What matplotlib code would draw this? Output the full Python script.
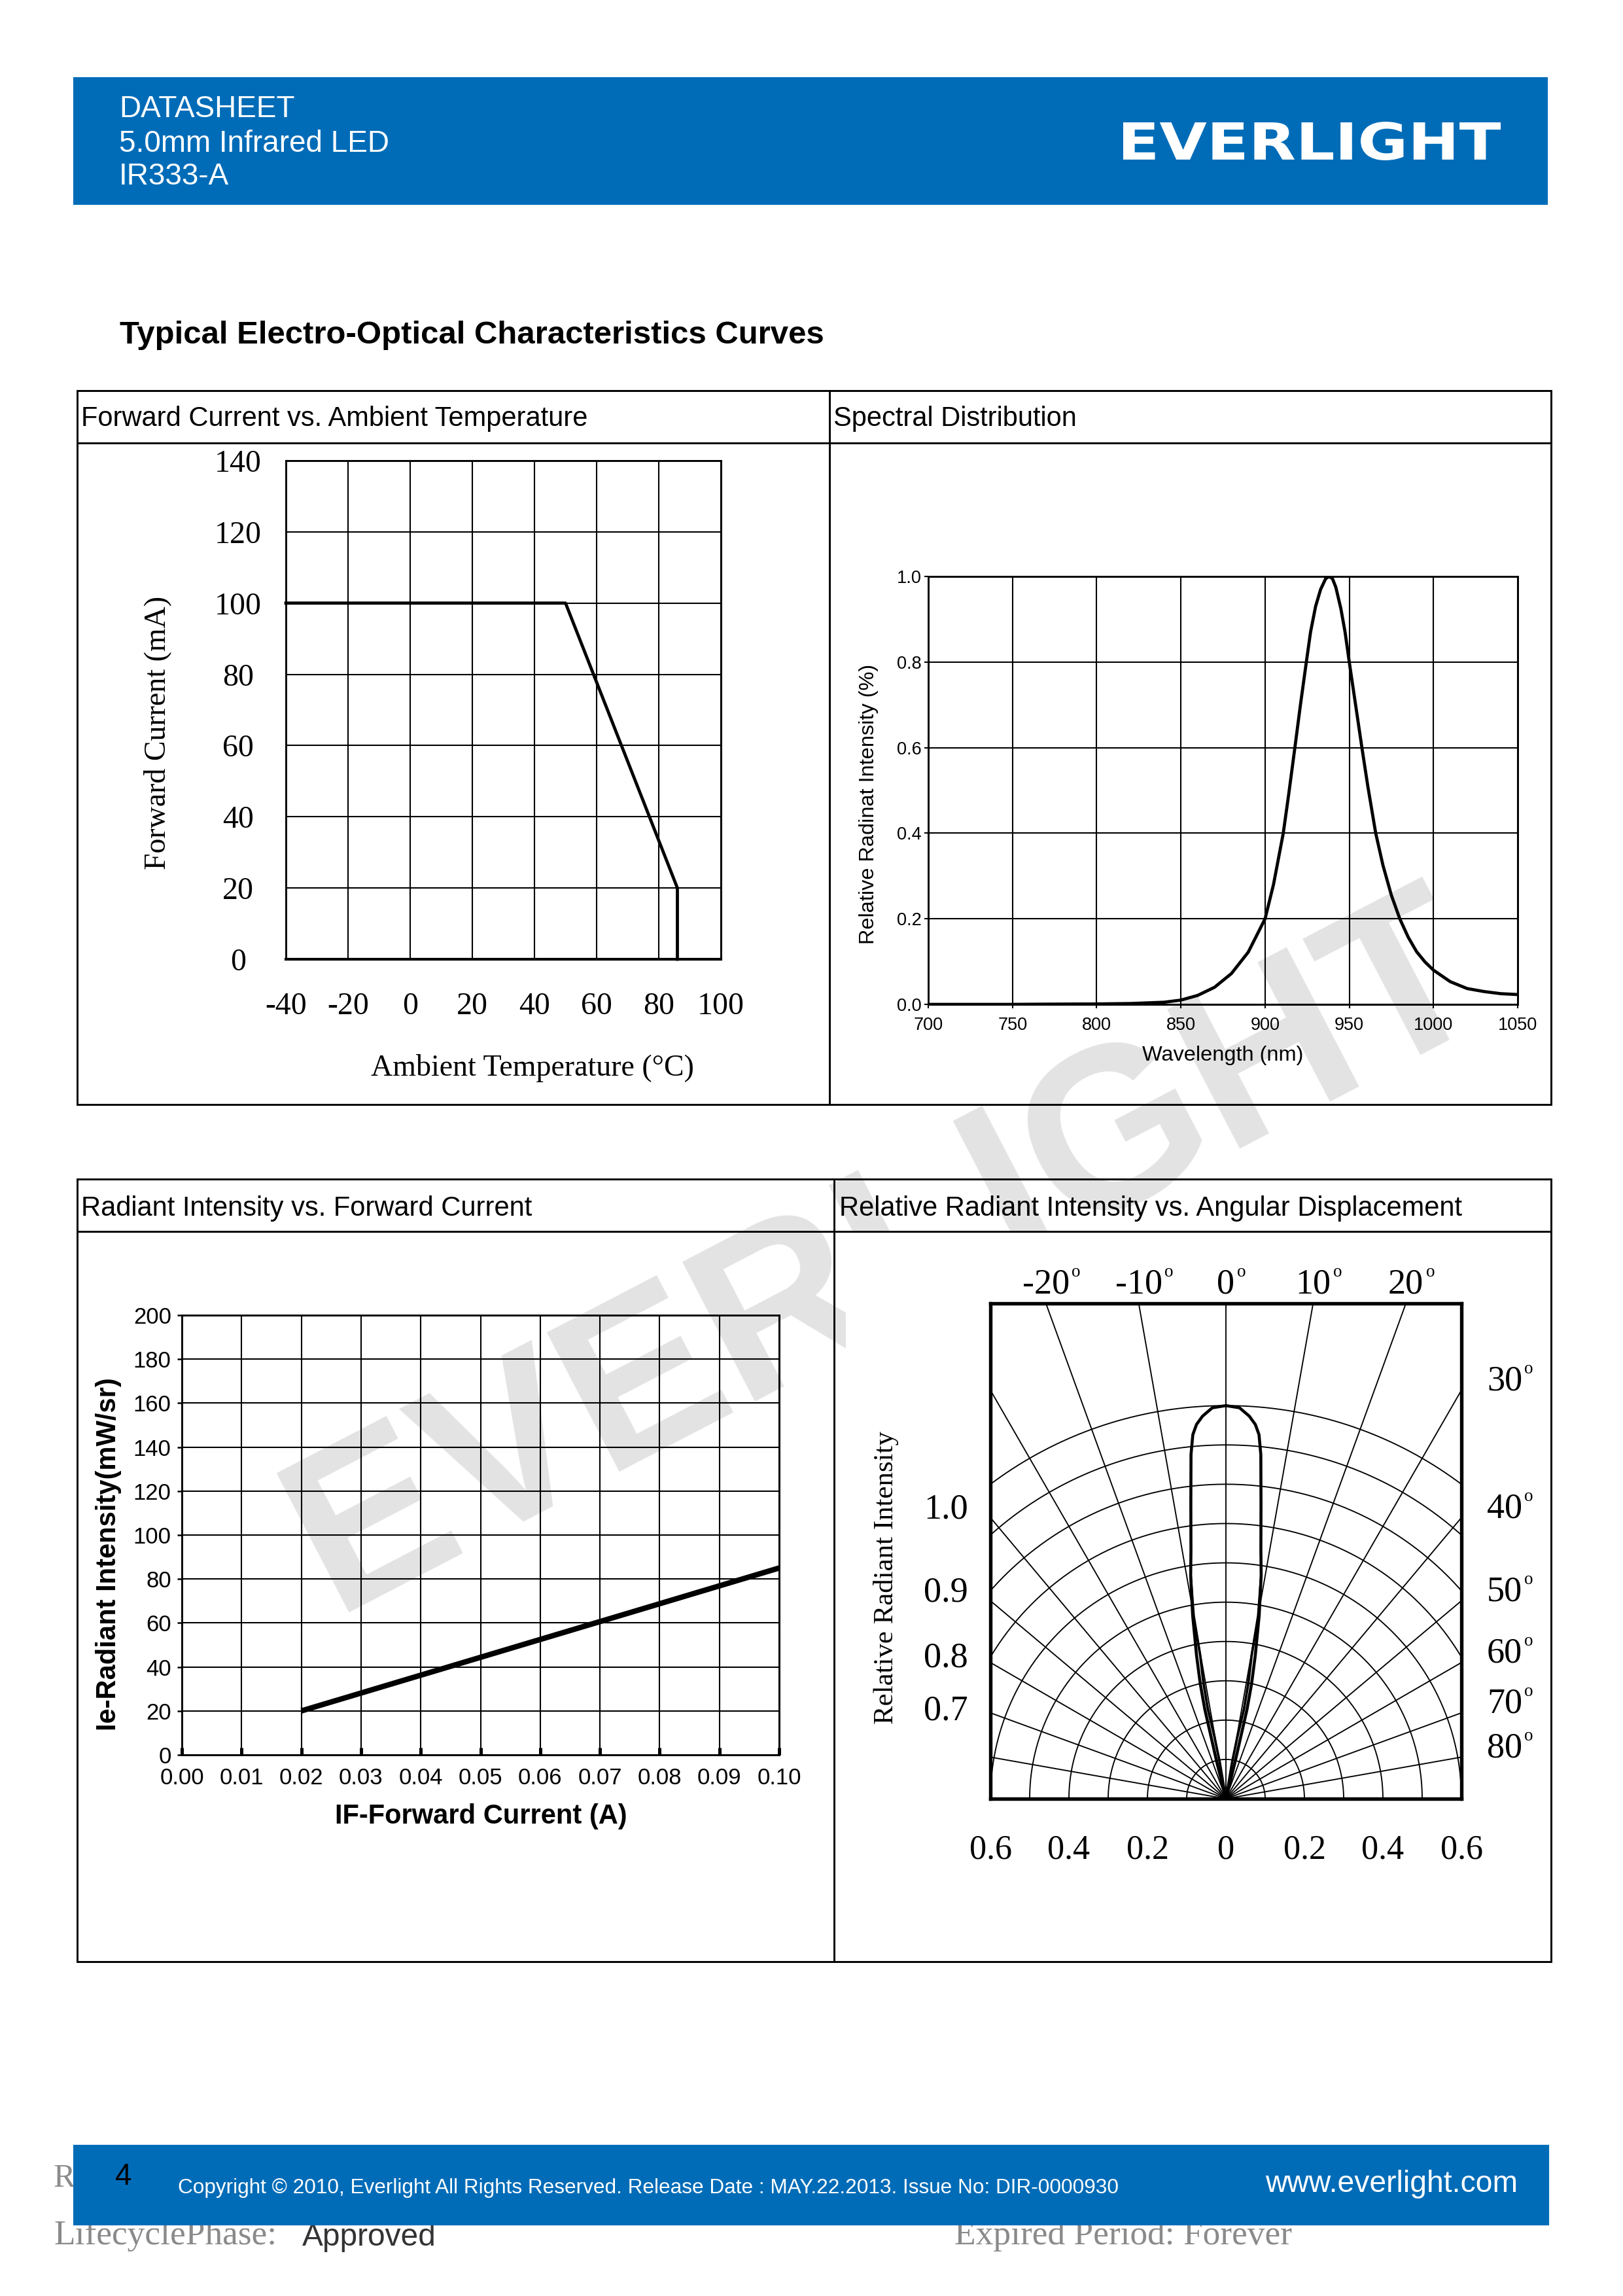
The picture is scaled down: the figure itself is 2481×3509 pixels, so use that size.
import numpy as np
import matplotlib
matplotlib.use('Agg')
import matplotlib.pyplot as plt
from matplotlib.patches import Rectangle, PathPatch
from matplotlib.textpath import TextPath
from matplotlib.font_manager import FontProperties
from matplotlib.transforms import Affine2D

plt.rcParams['font.family'] = ['Liberation Sans', 'DejaVu Sans']
plt.rcParams['mathtext.fontset'] = 'stix'
plt.rcParams['axes.unicode_minus'] = False

SERIF = ['Liberation Serif', 'DejaVu Serif']
BLUE = '#006cb8'
W, H = 2481, 3509

# ---- values ----
# Forward Current vs. Ambient Temperature
temp_c = [-40, 50, 86, 86]
fwd_ma = [100, 100, 20, 0]
temp_ticks = [-40, -20, 0, 20, 40, 60, 80, 100]
fwd_ticks = [0, 20, 40, 60, 80, 100, 120, 140]

# Spectral Distribution
wl_nm = [700, 750, 770, 800, 820, 840, 850, 860, 870, 880, 890, 900, 905, 910.8,
         914, 917.7, 921, 924.5, 927, 930, 933, 936, 938, 940, 942, 945, 947.5,
         950, 953, 957.5, 961, 965.7, 970, 975, 980, 985, 990, 995, 1000, 1010,
         1020, 1030, 1040, 1050]
spec_rel = [0.0, 0.0, 0.0005, 0.001, 0.002, 0.005, 0.010, 0.021, 0.040, 0.072,
            0.122, 0.200, 0.28, 0.40, 0.49, 0.60, 0.70, 0.80, 0.87, 0.93, 0.97,
            0.995, 1.0, 0.995, 0.975, 0.925, 0.87, 0.80, 0.72, 0.60, 0.51, 0.40,
            0.325, 0.255, 0.20, 0.157, 0.123, 0.099, 0.080, 0.053, 0.037, 0.030,
            0.025, 0.023]
wl_ticks = [700, 750, 800, 850, 900, 950, 1000, 1050]
spec_ticks = [0.0, 0.2, 0.4, 0.6, 0.8, 1.0]

# Radiant Intensity vs. Forward Current
if_a = [0.02, 0.10]
ie_mwsr = [20, 85]
if_ticks = [0.00, 0.01, 0.02, 0.03, 0.04, 0.05, 0.06, 0.07, 0.08, 0.09, 0.10]
ie_ticks = [0, 20, 40, 60, 80, 100, 120, 140, 160, 180, 200]

# Relative Radiant Intensity vs. Angular Displacement (half lobe, mirrored)
beam_deg = [0, 2, 3.5, 4.5, 5.2, 5.8, 6.8, 8.0, 9.0, 10.3, 11.6, 12.6, 13.3, 14.0, 14.6]
beam_rel = [1.0, 0.995, 0.975, 0.955, 0.93, 0.88, 0.755, 0.64, 0.574, 0.474,
            0.372, 0.30, 0.234, 0.095, 0.0]
# second (inner) trace of the lobe near the emitter
inner_deg = [9.0, 10.0, 10.2, 11.0, 11.4, 10.5, 9.6, 9.0]
inner_rel = [0.574, 0.473, 0.37, 0.30, 0.233, 0.16, 0.093, 0.0]
spoke_deg = [-80, -70, -60, -50, -40, -30, -20, -10, 0, 10, 20, 30, 40, 50, 60, 70, 80]
ring_r = [0.1, 0.2, 0.3, 0.4, 0.5, 0.6, 0.7, 0.8, 0.9, 1.0]
top_deg = [-20, -10, 0, 10, 20]
side_deg = [30, 40, 50, 60, 70, 80]
bottom_ticks = [-0.6, -0.4, -0.2, 0, 0.2, 0.4, 0.6]
bottom_labels = ['0.6', '0.4', '0.2', '0', '0.2', '0.4', '0.6']
left_labels = ['1.0', '0.9', '0.8', '0.7']
left_label_y = [0.713, 0.502, 0.335, 0.20]

fig = plt.figure(figsize=(W / 300, H / 300), dpi=300)


def px_axes(x0, y0, x1, y1):
    # axes placed by page pixel box (y measured from the top)
    ax = fig.add_axes([x0 / W, 1 - y1 / H, (x1 - x0) / W, (y1 - y0) / H], zorder=3)
    ax.set_facecolor('none')
    return ax


def degree_label(ax, x, y, num, ha):
    t = ax.text(x, y, num, ha=ha, va='baseline', fontsize=13, family=SERIF, clip_on=False)
    ax.annotate('o', xy=(1.0, 1.0), xycoords=t, xytext=(0.8, 1.5), textcoords='offset points',
                ha='left', va='top', fontsize=6.5, family=SERIF, annotation_clip=False)


# page background layer in pixel coordinates
bg = fig.add_axes([0, 0, 1, 1], zorder=0)
bg.set_xlim(0, W)
bg.set_ylim(H, 0)
bg.axis('off')

# header band
bg.add_patch(Rectangle((114, 120), 2364 - 114, 311 - 120, color=BLUE, zorder=2))
for txt, yb in zip(['DATASHEET', '5.0mm Infrared LED', 'IR333-A'], [179, 232, 282]):
    bg.text(182, yb, txt, color='white', fontsize=11, va='baseline', zorder=3)

fp = FontProperties(family='DejaVu Sans', weight='bold')
logo = TextPath((0, 0), 'EVERLIGHT', size=1, prop=fp)
ext = logo.get_extents()
lx0, ly0, lx1, ly1 = 1717, 186, 2294, 245
tr = Affine2D().translate(-ext.x0, -ext.y0).scale((lx1 - lx0) / ext.width, -(ly1 - ly0) / ext.height).translate(lx0, ly1)
bg.add_patch(PathPatch(tr.transform_path(logo), facecolor='white', edgecolor='none', zorder=3))

bg.text(183, 525, 'Typical Electro-Optical Characteristics Curves', fontsize=11.8,
        fontweight='bold', va='baseline')

# watermark
bg.text(1357, 1922, 'EVERLIGHT', fontsize=84, fontweight='bold', color='#e3e3e3',
        rotation=27.5, ha='center', va='center', rotation_mode='anchor', zorder=1)

# white box of the polar figure hides the watermark
bg.add_patch(Rectangle((1295, 1885), 2369 - 1295, 2996 - 1885, color='white', zorder=2))

# tables
for top, hdr, bot, div in [(597, 677, 1688, 1268), (1802, 1882, 2998, 1275)]:
    bg.add_patch(Rectangle((118, top), 2371 - 118, bot - top, fill=False, ec='k', lw=0.7, zorder=4))
    bg.plot([118, 2371], [hdr, hdr], color='k', lw=0.7, zorder=4)
    bg.plot([div, div], [top, bot], color='k', lw=0.7, zorder=4)

bg.text(124, 651, 'Forward Current vs. Ambient Temperature', fontsize=10, va='baseline')
bg.text(1274, 651, 'Spectral Distribution', fontsize=10, va='baseline')
bg.text(124, 1858, 'Radiant Intensity vs. Forward Current', fontsize=10, va='baseline')
bg.text(1283, 1858, 'Relative Radiant Intensity vs. Angular Displacement', fontsize=10, va='baseline')

# footer
bg.text(82, 3342, 'R', fontsize=12, family=SERIF, color='#8c8c8c', va='baseline', zorder=1)
bg.add_patch(Rectangle((114, 3280), 2366 - 114, 3399 - 3280, color=BLUE, zorder=2))
bg.text(176, 3339, '4', fontsize=11, color='black', va='baseline', zorder=3)
bg.text(272, 3352, 'Copyright \u00a9 2010, Everlight All Rights Reserved. Release Date : MAY.22.2013. '
        'Issue No: DIR-0000930', fontsize=7.55, color='white', va='baseline', zorder=3)
bg.text(1934, 3350, 'www.everlight.com', fontsize=11.1, color='white', va='baseline', zorder=3)
bg.text(82, 3430, 'LifecyclePhase:', fontsize=12.8, family=SERIF, color='#8a8a8a', va='baseline', zorder=1)
bg.text(462, 3432, 'Approved', fontsize=11.5, color='#333333', va='baseline', zorder=1)
bg.text(1459, 3430, 'Expired Period: Forever', fontsize=12.8, family=SERIF, color='#8a8a8a',
        va='baseline', zorder=1)

# ---- Forward Current vs. Ambient Temperature ----
ax1 = px_axes(437, 704, 1102, 1466)
ax1.plot(temp_c, fwd_ma, color='k', lw=1.15, clip_on=False)
ax1.set_xlim(-40, 100)
ax1.set_ylim(0, 140)
ax1.set_xticks(temp_ticks)
ax1.set_yticks(fwd_ticks)
ax1.grid(True, color='k', lw=0.5)
ax1.tick_params(length=0, labelsize=11.5)
ax1.tick_params(axis='x', pad=12)
ax1.tick_params(axis='y', pad=17.5)
for lab in ax1.get_xticklabels() + ax1.get_yticklabels():
    lab.set_fontfamily(SERIF)
for lab in ax1.get_yticklabels():
    lab.set_ha('center')
for s in ax1.spines.values():
    s.set_linewidth(0.7)
ax1.spines['bottom'].set_linewidth(1.0)
ax1.set_ylabel('Forward Current (mA)', fontsize=11, family=SERIF)
ax1.yaxis.set_label_coords(-0.296, 0.454)
ax1.yaxis.label.set_va('center')
ax1.set_xlabel('Ambient Temperature (\u00b0C)', fontsize=11, family=SERIF)
ax1.xaxis.set_label_coords(0.567, -0.218)
ax1.xaxis.label.set_va('center')

# ---- Spectral Distribution ----
ax2 = px_axes(1419, 881, 2320, 1535)
ax2.plot(wl_nm, spec_rel, color='k', lw=1.15)
ax2.set_xlim(700, 1050)
ax2.set_ylim(0, 1.0)
ax2.set_xticks(wl_ticks)
ax2.set_yticks(spec_ticks)
ax2.set_yticklabels(['%.1f' % v for v in spec_ticks])
ax2.grid(True, color='k', lw=0.5)
ax2.tick_params(direction='out', length=1.5, width=0.5, labelsize=6.5, pad=1)
ax2.tick_params(axis='x', pad=3)
for s in ax2.spines.values():
    s.set_linewidth(0.7)
ax2.set_ylabel('Relative Radinat Intensity (%)', fontsize=7.8)
ax2.yaxis.set_label_coords(-0.101, 0.468)
ax2.yaxis.label.set_va('center')
ax2.set_xlabel('Wavelength (nm)', fontsize=7.8)
ax2.xaxis.set_label_coords(0.4995, -0.119)
ax2.xaxis.label.set_va('center')

# ---- Radiant Intensity vs. Forward Current ----
ax3 = px_axes(278, 2010, 1191, 2682)
ax3.plot(if_a, ie_mwsr, color='k', lw=2.0, solid_capstyle='butt')
ax3.set_xlim(0, 0.10)
ax3.set_ylim(0, 200)
ax3.set_xticks(if_ticks)
ax3.set_xticklabels(['%.2f' % v for v in if_ticks])
ax3.set_yticks(ie_ticks)
ax3.grid(True, color='k', lw=0.5)
ax3.tick_params(axis='x', direction='in', length=2.6, width=1.2, labelsize=8.3, pad=4.5)
ax3.tick_params(axis='y', direction='out', length=1.7, width=0.6, labelsize=8.3, pad=2.2)
for s in ax3.spines.values():
    s.set_linewidth(0.7)
ax3.set_ylabel('Ie-Radiant Intensity(mW/sr)', fontsize=10, fontweight='bold')
ax3.yaxis.set_label_coords(-0.1227, 0.457)
ax3.yaxis.label.set_va('center')
ax3.set_xlabel('IF-Forward Current (A)', fontsize=10, fontweight='bold')
ax3.xaxis.set_label_coords(0.5005, -0.14)
ax3.xaxis.label.set_va('center')

# ---- Relative Radiant Intensity vs. Angular Displacement ----
ax4 = px_axes(1514, 1992, 2234, 2749)
ax4.set_xlim(-0.6, 0.6)
ax4.set_ylim(0, 1.26)
for d in spoke_deg:
    t = np.radians(d)
    ax4.plot([0, 2 * np.sin(t)], [0, 2 * np.cos(t)], color='k', lw=0.45)
phi = np.radians(np.linspace(-90, 90, 361))
for r in ring_r:
    ax4.plot(r * np.sin(phi), r * np.cos(phi), color='k', lw=0.45)
ang = np.radians(np.r_[-np.array(beam_deg[::-1]), np.array(beam_deg[1:])])
rel = np.r_[np.array(beam_rel[::-1]), np.array(beam_rel[1:])]
ax4.plot(rel * np.sin(ang), rel * np.cos(ang), color='k', lw=1.1)
for side in (-1, 1):
    a = np.radians(side * np.array(inner_deg))
    ax4.plot(np.array(inner_rel) * np.sin(a), np.array(inner_rel) * np.cos(a), color='k', lw=0.9)
ax4.set_xticks(bottom_ticks)
ax4.set_xticklabels(bottom_labels)
ax4.set_yticks([])
ax4.tick_params(length=0, labelsize=12.5, pad=13)
for lab in ax4.get_xticklabels():
    lab.set_fontfamily(SERIF)
for s in ax4.spines.values():
    s.set_linewidth(1.3)
top_y = ax4.get_ylim()[1]
for d in top_deg:
    degree_label(ax4, top_y * np.tan(np.radians(d)), top_y + 0.025, '%d' % d, 'center')
for d in side_deg:
    degree_label(ax4, 0.665, 0.6 / np.tan(np.radians(d)), '%d' % d, 'left')
for lab, y in zip(left_labels, left_label_y):
    ax4.text(-0.657, y, lab, ha='right', va='baseline', fontsize=13, family=SERIF, clip_on=False)
ax4.set_ylabel('Relative Radiant Intensity', fontsize=10.3, family=SERIF)
ax4.yaxis.set_label_coords(-0.221, 0.4465)
ax4.yaxis.label.set_va('center')

fig.savefig('out.png', dpi=300)
